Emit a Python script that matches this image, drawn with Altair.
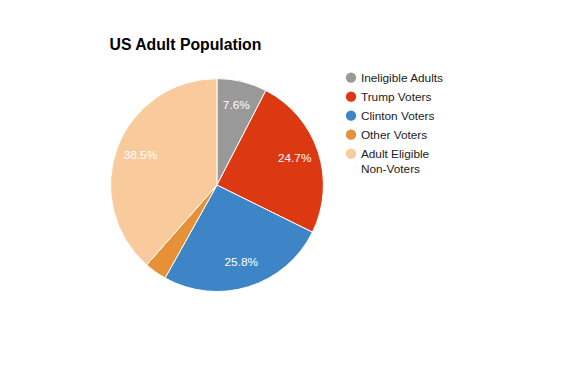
import altair as alt
import pandas as pd

categories = ["Ineligible Adults", "Trump Voters", "Clinton Voters", "Other Voters", "Adult Eligible Non-Voters"]
shares = [7.6, 24.7, 25.8, 3.4, 38.5]
labels = ["7.6%", "24.7%", "25.8%", "", "38.5%"]
colors = ["#999999", "#dc3912", "#3d85c6", "#e69138", "#f9cb9c"]

df = pd.DataFrame({
    "category": categories,
    "share": shares,
    "label": labels,
    "order": list(range(len(categories))),
})

FONT = "Arial, Liberation Sans, sans-serif"

base = alt.Chart(df).encode(
    theta=alt.Theta("share:Q", stack=True),
    order=alt.Order("order:Q"),
)

pie = base.mark_arc(stroke="white", strokeWidth=1).encode(
    color=alt.Color(
        "category:N",
        scale=alt.Scale(domain=categories, range=colors),
        sort=categories,
        legend=alt.Legend(
            title=None,
            orient="none",
            legendX=238,
            legendY=-7,
            symbolType="circle",
            symbolSize=110,
            symbolStrokeWidth=0,
            labelFont=FONT,
            labelFontSize=12,
            labelColor="#222222",
            rowPadding=7.3,
            labelLimit=200,
            labelExpr="datum.label == 'Adult Eligible Non-Voters' ? ['Adult Eligible', 'Non-Voters'] : datum.label",
        ),
    )
)

text = base.mark_text(radius=83, font=FONT, fontSize=12, color="white", dy=-1).encode(
    text="label:N"
)

chart = (
    (pie + text)
    .properties(
        width=216,
        height=216,
        title=alt.TitleParams(
            "US Adult Population",
            anchor="start",
            font=FONT,
            fontSize=16,
            fontWeight="bold",
            color="#000000",
            dx=1,
            offset=19,
        ),
        autosize=alt.AutoSizeParams(type="none"),
        padding={"left": 104, "top": 69, "right": 239, "bottom": 78},
    )
    .configure_view(stroke=None)
    .configure(background="white", style={"guide-label": {"lineHeight": 16}})
)

chart.save("out.html", embed_options={"renderer": "svg", "actions": False})
